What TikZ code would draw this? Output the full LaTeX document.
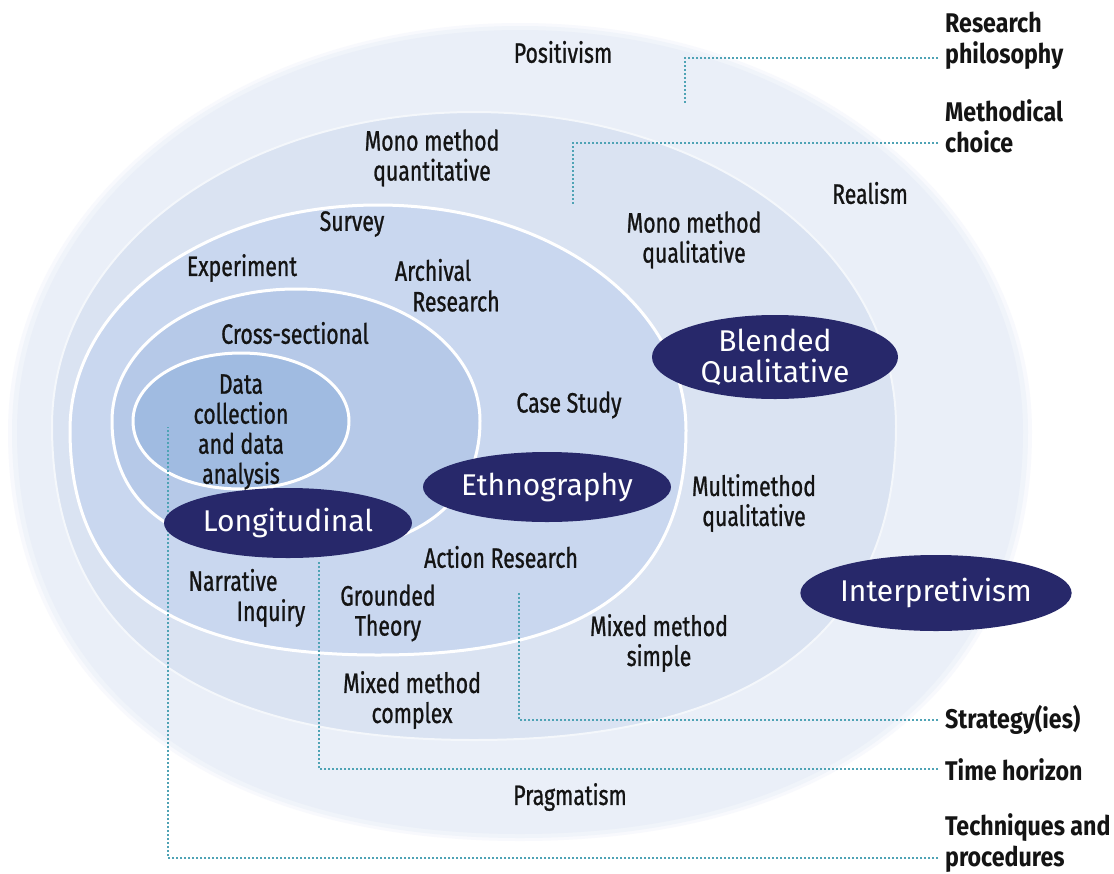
\documentclass[tikz,border=0pt]{standalone}
\usepackage{fontspec}
\setmainfont{Fira Sans}[FakeStretch=0.76, FakeBold=0.9]
\newfontfamily\ovalfont{Fira Sans}
\newfontfamily\headfont{Fira Sans}[FakeStretch=0.86]
\usetikzlibrary{shapes.geometric}

\definecolor{ringA}{HTML}{EAEFF8}
\definecolor{ringB}{HTML}{DAE3F2}
\definecolor{ringC}{HTML}{C9D7EF}
\definecolor{ringD}{HTML}{B6C9E8}
\definecolor{ringE}{HTML}{A0BBE1}
\definecolor{navy}{HTML}{27286A}
\definecolor{dotteal}{HTML}{4FA3B5}
\definecolor{ink}{HTML}{141414}

% Closed rounded ring: style, cx, cy, rx, ry, bulge of upper half, bulge of lower half
\newcommand\onionring[7]{%
  \pgfmathsetmacro\ringR{#2+#4}%
  \pgfmathsetmacro\ringL{#2-#4}%
  \pgfmathsetmacro\ringT{#3-#5}%
  \pgfmathsetmacro\ringB{#3+#5}%
  \pgfmathsetmacro\ringtx{#6*#4}\pgfmathsetmacro\ringty{#6*#5}%
  \pgfmathsetmacro\ringbx{#7*#4}\pgfmathsetmacro\ringby{#7*#5}%
  \path[#1] (\ringR,#3)
     .. controls (\ringR,#3-\ringty) and (#2+\ringtx,\ringT) .. (#2,\ringT)
     .. controls (#2-\ringtx,\ringT) and (\ringL,#3-\ringty) .. (\ringL,#3)
     .. controls (\ringL,#3+\ringby) and (#2-\ringbx,\ringB) .. (#2,\ringB)
     .. controls (#2+\ringbx,\ringB) and (\ringR,#3+\ringby) .. (\ringR,#3) -- cycle;
}

\begin{document}
\begin{tikzpicture}[x=1pt,y=-1pt,
  lbl/.style={text=ink, align=center, inner sep=0pt,
    font=\fontsize{28}{30}\selectfont},
  head/.style={text=ink, align=left, anchor=west, inner sep=0pt,
    font=\headfont\bfseries\fontsize{27}{31}\selectfont},
  oval/.style={ellipse, fill=navy, text=white, inner sep=0pt, align=center,
    font=\ovalfont\fontsize{30}{31}\selectfont},
  dotline/.style={dotteal, line width=1.8pt, dash pattern=on 1.8pt off 2.2pt},
  ringline/.style={draw=white, line width=3pt}]

\path[fill=white] (0,0) rectangle (1114,873);
\useasboundingbox (0,0) rectangle (1114,873);

% nested rings of the onion; the outermost one has a soft rim
\onionring{fill=ringA!35}{520}{432}{512}{409}{0.56}{0.62}
\onionring{fill=ringA!70}{520}{432}{508}{406}{0.56}{0.62}
\onionring{fill=ringA}{520}{432}{503}{402}{0.56}{0.62}
\onionring{fill=ringB, draw=white!70!ringB, line width=2pt}{474}{426}{422}{314}{0.56}{0.66}
\onionring{fill=ringC, ringline}{378}{430}{308}{225}{0.56}{0.68}
\onionring{fill=ringD, ringline}{296}{421}{184}{132}{0.56}{0.64}
\onionring{fill=ringE, ringline}{241}{421}{108}{68}{0.56}{0.58}

% layer labels on the right
\node[head] (rphil) at (945,41) {Research\\philosophy};
\node[head] (mchoice) at (945,126) {Methodical\\choice};
\node[head] (strat) at (945,720) {Strategy(ies)};
\node[head] (timeh) at (945,770) {Time horizon};
\node[head] (techn) at (945,843) {Techniques and\\procedures};

% leader lines from the labels into the rings
\coordinate (rphilT) at (938,58);   \coordinate (rphilE) at (685,103);
\coordinate (mchoiceT) at (938,143); \coordinate (mchoiceE) at (573,205);
\coordinate (stratT) at (938,720);  \coordinate (stratE) at (519,593);
\coordinate (timehT) at (938,769);  \coordinate (timehE) at (319,562);
\coordinate (technT) at (938,858);  \coordinate (technE) at (168,427);
\draw[dotline] (rphilT) -| (rphilE);
\draw[dotline] (mchoiceT) -| (mchoiceE);
\draw[dotline] (stratT) -| (stratE);
\draw[dotline] (timehT) -| (timehE);
\draw[dotline] (technT) -| (technE);

% text inside the rings
\node[lbl] (positivism) at (563,52) {Positivism};
\node[lbl] (monoquant) at (432,158) {Mono method\\quantitative};
\node[lbl] (realism) at (870,193) {Realism};
\node[lbl] (survey) at (352,224) {Survey};
\node[lbl] (monoqual) at (694,240) {Mono method\\qualitative};
\node[lbl] (experiment) at (242,268) {Experiment};
\node[lbl] (archival) at (433,270) {Archival};
\node[lbl] (archivalr) at (456,301) {Research};
\node[lbl] (crosssec) at (295,333) {Cross-sectional};
\node[lbl] (datacoll) at (241,432) {Data\\collection\\and data\\analysis};
\node[lbl] (casestudy) at (569,405) {Case Study};
\node[lbl] (multimethod) at (754,503) {Multimethod\\qualitative};
\node[lbl] (actionres) at (501,557) {Action Research};
\node[lbl] (narrative) at (233,580) {Narrative};
\node[lbl] (inquiry) at (271,613) {Inquiry};
\node[lbl] (grounded) at (388,613) {Grounded\\Theory};
\node[lbl] (mixedsimple) at (659,643) {Mixed method\\simple};
\node[lbl] (mixedcomplex) at (412,700) {Mixed method\\complex};
\node[lbl] (pragmatism) at (570,797) {Pragmatism};

% highlighted choices
\node[oval, minimum width=246pt, minimum height=84pt] (blended) at (775,357) {Blended\\Qualitative};
\node[oval, minimum width=248pt, minimum height=70pt] (ethno) at (547,487) {Ethnography};
\node[oval, minimum width=248pt, minimum height=70pt] (longit) at (288,523) {Longitudinal};
\node[oval, minimum width=254pt, minimum height=76pt] (interp) at (936,593) {Interpretivism};

\end{tikzpicture}
\end{document}
